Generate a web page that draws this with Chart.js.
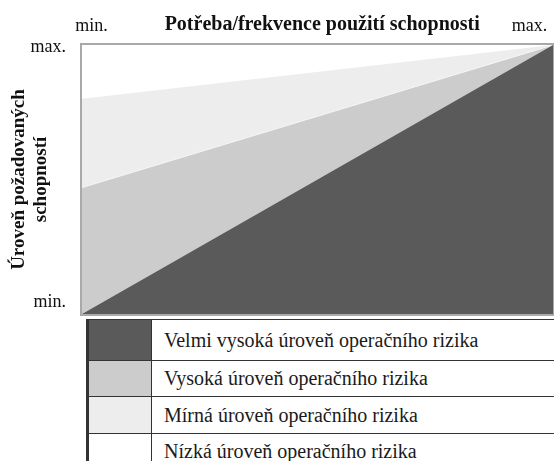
<!DOCTYPE html>
<html lang="cs">
<head>
<meta charset="utf-8">
<script src="https://cdn.jsdelivr.net/npm/chart.js@4/dist/chart.umd.min.js"></script>
<style>
  html, body { margin: 0; padding: 0; background: #fff; }
  body { width: 554px; height: 461px; overflow: hidden; position: relative; font-family: 'Liberation Serif', 'DejaVu Serif', serif; }
  #wrap { position: absolute; left: 0; top: 0; width: 554px; height: 316px; }
  #legend { position: absolute; left: 86px; top: 319px; width: 472px; border-collapse: collapse; color: #1a1a1a; font-size: 20px; }
  #legend td { border: 1.5px solid #333; padding: 0 0 0 12px; }
  #legend td.sw { width: 62px; padding: 0; border-left: 3px solid #333; }
</style>
</head>
<body>
<div id="wrap"><canvas id="riskChart"></canvas></div>
<table id="legend"></table>
<script>
// x: need / frequency of use (min..max), y: required capability level (min..max)
const needLevels = [0, 100];
// upper edge of each risk zone along the x axis
const veryHighEdge = [0, 100];
const highEdge = [47, 100];
const moderateEdge = [80, 100];

const zoneLabels = [
  'Velmi vysoká úroveň operačního rizika',
  'Vysoká úroveň operačního rizika',
  'Mírná úroveň operačního rizika',
  'Nízká úroveň operačního rizika',
];
const zoneColors = ['#5a5a5a', '#cccccc', '#ededed', '#ffffff'];
const rowHeights = [41, 36, 37, 36];

const xTickValues = [2, 51, 95];
const xTickLabels = ['min.', 'Potřeba/frekvence použití schopnosti', 'max.'];
const yTickValues = [4.5, 99];
const yTickLabels = ['min.', 'max.'];
const yTitle = ['Úroveň požadovaných', 'schopností'];

const serif = "'Liberation Serif', 'DejaVu Serif', serif";

function toPoints(edge) {
  return needLevels.map((x, i) => ({ x: x, y: edge[i] }));
}

// frame around the plot area
const framePlugin = {
  id: 'frame',
  afterDraw(chart) {
    const { ctx, chartArea: a } = chart;
    ctx.save();
    ctx.strokeStyle = '#a9a9a9';
    ctx.lineWidth = 2;
    ctx.strokeRect(a.left - 1, a.top - 1, a.right - a.left + 2, a.bottom - a.top + 2);
    ctx.restore();
  },
};

new Chart(document.getElementById('riskChart'), {
  type: 'line',
  data: {
    datasets: [
      {
        label: zoneLabels[0],
        data: toPoints(veryHighEdge),
        backgroundColor: zoneColors[0],
        borderWidth: 0,
        fill: 'origin',
      },
      {
        label: zoneLabels[1],
        data: toPoints(highEdge),
        backgroundColor: zoneColors[1],
        borderColor: '#f6f6f6',
        borderWidth: 1,
        fill: '-1',
      },
      {
        label: zoneLabels[2],
        data: toPoints(moderateEdge),
        backgroundColor: zoneColors[2],
        borderWidth: 0,
        fill: '-1',
      },
    ],
  },
  options: {
    responsive: true,
    maintainAspectRatio: false,
    animation: false,
    layout: { padding: { right: 1, bottom: 2 } },
    elements: { point: { radius: 0 }, line: { tension: 0 } },
    plugins: {
      legend: { display: false },
      tooltip: { enabled: false },
    },
    scales: {
      x: {
        type: 'linear',
        position: 'top',
        min: 0,
        max: 100,
        grid: { display: false, drawTicks: false },
        border: { display: false },
        afterFit: (scale) => {
          scale.height = 45;
          scale.paddingLeft = 0;
          scale.paddingRight = 0;
        },
        afterBuildTicks: (scale) => { scale.ticks = xTickValues.map((v) => ({ value: v })); },
        ticks: {
          padding: 8,
          maxRotation: 0,
          autoSkip: false,
          color: '#111',
          font: (ctx) => ({ family: serif, size: ctx.index === 1 ? 20 : 18, weight: ctx.index === 1 ? 'bold' : 'normal' }),
          callback: (value, index) => xTickLabels[index],
        },
      },
      y: {
        type: 'linear',
        min: 0,
        max: 100,
        grid: { display: false, drawTicks: false },
        border: { display: false },
        afterFit: (scale) => {
          scale.width = 82;
          scale.paddingTop = 0;
          scale.paddingBottom = 0;
        },
        afterBuildTicks: (scale) => { scale.ticks = yTickValues.map((v) => ({ value: v })); },
        ticks: {
          padding: 16,
          autoSkip: false,
          color: '#111',
          font: { family: serif, size: 18 },
          callback: (value, index) => yTickLabels[index],
        },
        title: {
          display: true,
          text: yTitle,
          color: '#111',
          padding: { top: 8, bottom: 0 },
          font: { family: serif, size: 19, weight: 'bold', lineHeight: 1.15 },
        },
      },
    },
  },
  plugins: [framePlugin],
});

// legend table under the chart
const table = document.getElementById('legend');
zoneLabels.forEach((label, i) => {
  const tr = document.createElement('tr');
  tr.style.height = rowHeights[i] + 'px';
  const sw = document.createElement('td');
  sw.className = 'sw';
  sw.style.background = zoneColors[i];
  const txt = document.createElement('td');
  txt.textContent = label;
  tr.appendChild(sw);
  tr.appendChild(txt);
  table.appendChild(tr);
});
</script>
</body>
</html>
